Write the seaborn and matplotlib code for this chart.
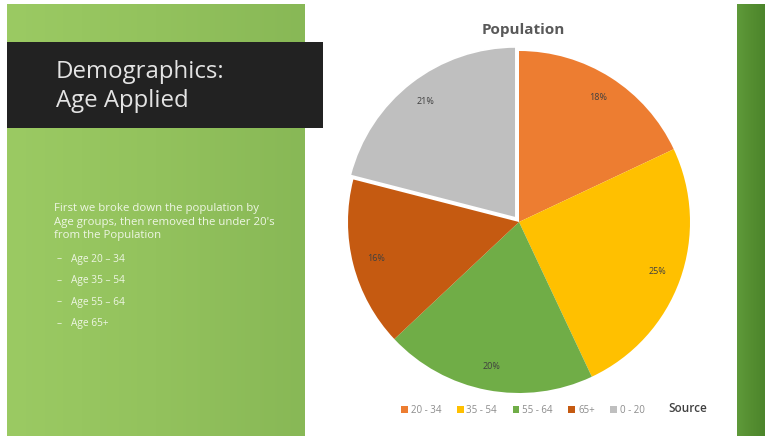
import numpy as np
import matplotlib
matplotlib.use("Agg")
import matplotlib.pyplot as plt
from matplotlib.patches import Rectangle
import seaborn as sns

# Age-group shares of the population (percent)
age_groups = ["20 - 34", "35 - 54", "55 - 64", "65+", "0 - 20"]
shares = [18, 25, 20, 16, 21]
slice_colors = ["#ED7D31", "#FFC000", "#70AD47", "#C55A11", "#BFBFBF"]
pulled_out = [0, 0, 0, 0, 0.03]

title_lines = ["Demographics:", "Age Applied"]
intro_text = ["First we broke down the population by",
              "Age groups, then removed the under 20's",
              "from the Population"]
bullet_items = ["Age 20 – 34", "Age 35 – 54", "Age 55 – 64", "Age 65+"]

sns.set_theme(style="white")
plt.rcParams["font.family"] = ["Open Sans", "DejaVu Sans"]

W, H = 765, 436
fig = plt.figure(figsize=(W / 100, H / 100), dpi=100)
fig.patch.set_facecolor("white")


def px(x, y):
    return x / W, 1 - y / H


# Green slide background with a soft horizontal gradient
bg = fig.add_axes([7 / W, 0, (305 - 7) / W, (H - 4) / H])
grad = np.linspace(0, 1, 256)[None, :]
green_cmap = matplotlib.colors.LinearSegmentedColormap.from_list(
    "g", ["#9BCA63", "#93C25D", "#88B856"])
bg.imshow(grad, aspect="auto", cmap=green_cmap, extent=[0, 1, 0, 1])
bg.axis("off")

# Dark green strip on the right
strip = fig.add_axes([737 / W, 0, (W - 737) / W, (H - 4) / H])
strip_cmap = matplotlib.colors.LinearSegmentedColormap.from_list(
    "d", ["#5F9A3A", "#558E31", "#4C852B"])
strip.imshow(grad, aspect="auto", cmap=strip_cmap, extent=[0, 1, 0, 1])
strip.axis("off")

# Dark title banner
fig.patches.append(Rectangle(px(7, 128), (323 - 7) / W, (128 - 42) / H,
                             transform=fig.transFigure, facecolor="#222222",
                             edgecolor="none", zorder=5))
fig.text(*px(56, 72), title_lines[0], fontsize=17.3, color="#E3E3E3",
         va="center", ha="left", zorder=6)
fig.text(*px(56, 101), title_lines[1], fontsize=17.3, color="#E3E3E3",
         va="center", ha="left", zorder=6)

# Intro text and bullet list
for i, line in enumerate(intro_text):
    fig.text(*px(54, 209 + i * 13), line, fontsize=8.2, color="#EEF6E4",
             va="center", ha="left")
for i, item in enumerate(bullet_items):
    fig.text(*px(57, 259 + i * 21.5), "–", fontsize=7.3, color="#EEF6E4",
             va="center", ha="left")
    fig.text(*px(71, 259 + i * 21.5), item, fontsize=7.3, color="#EEF6E4",
             va="center", ha="left")

# Pie chart
cx, cy, r, half = 519, 222, 171, 200
ax = fig.add_axes([(cx - half) / W, (H - cy - half) / H, 2 * half / W, 2 * half / H])
wedges, texts, autotexts = ax.pie(
    shares, colors=slice_colors, startangle=90, counterclock=False,
    explode=pulled_out, autopct="%d%%", pctdistance=0.86,
    wedgeprops=dict(edgecolor="none", linewidth=0),
    textprops=dict(fontsize=6.5, color="#404040"))
# white outline only on the pulled-out slice
wedges[-1].set_edgecolor("white")
wedges[-1].set_linewidth(1.2)
lim = half / r
ax.set_xlim(-lim, lim)
ax.set_ylim(-lim, lim)
ax.set_aspect("equal")
ax.axis("off")

fig.text(*px(523, 30), "Population", fontsize=11, fontweight="bold",
         color="#595959", ha="center", va="center")

handles = [Rectangle((0, 0), 1, 1, facecolor=c, edgecolor="none") for c in slice_colors]
fig.legend(handles, age_groups, loc="center", bbox_to_anchor=px(523, 410),
           ncol=5, frameon=False, fontsize=7, labelcolor="#8C8C8C",
           handlelength=0.7, handleheight=0.7, handletextpad=0.3,
           columnspacing=1.6)

fig.text(*px(688, 408), "Source", fontsize=8.5, fontweight="semibold",
         color="#404040", ha="center", va="center")

fig.savefig("out.png", dpi=100)
